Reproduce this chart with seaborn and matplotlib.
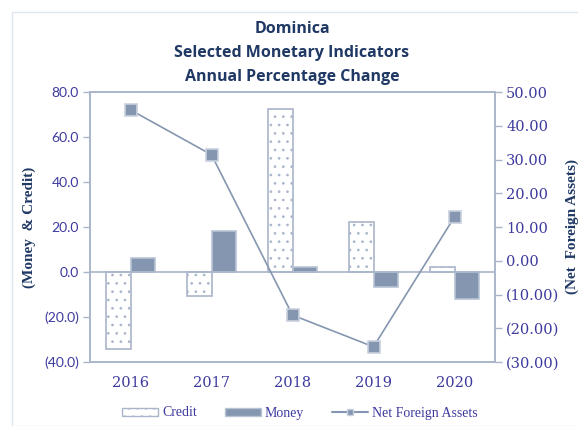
import matplotlib
matplotlib.use("Agg")
import matplotlib.pyplot as plt
import matplotlib.patches as mpatches
from matplotlib.lines import Line2D
import seaborn as sns
import pandas as pd

years = ["2016", "2017", "2018", "2019", "2020"]
credit = [-34.4, -10.7, 72.4, 22.1, 2.4]
money = [6.1, 18.1, 2.2, -6.7, -11.9]
nfa = [44.7, 31.4, -16.1, -25.5, 13.0]
left_ticks = [-40, -20, 0, 20, 40, 60, 80]
left_tick_labels = ["(40.0)", "(20.0)", "0.0", "20.0", "40.0", "60.0", "80.0"]
right_ticks = [-30, -20, -10, 0, 10, 20, 30, 40, 50]
right_tick_labels = ["(30.00)", "(20.00)", "(10.00)", "0.00", "10.00", "20.00", "30.00", "40.00", "50.00"]

sns.set_style("white")
plt.rcParams["hatch.color"] = "#6E9BE0"
plt.rcParams["hatch.linewidth"] = 0.7

SPINE = "#A9B5CA"
TICKC = "#3D3A9E"
NAVY = "#1F3864"
MFILL = "#8496B0"
MEDGE = "#B8C3D5"

fig = plt.figure(figsize=(5.78, 4.26), dpi=100)
fig.patches.append(mpatches.Rectangle((12/578, 0), 1, 1 - 12/426, transform=fig.transFigure,
                                      fill=False, edgecolor="#DCE6F2", linewidth=1.0))
ax = fig.add_axes([90/578, 1 - 362/426, 405/578, 270/426])

df = pd.DataFrame({
    "year": years * 2,
    "value": credit + money,
    "series": ["Credit"] * 5 + ["Money"] * 5,
})
sns.barplot(data=df, x="year", y="value", hue="series", ax=ax, width=0.6,
            palette={"Credit": "white", "Money": MFILL}, legend=False, saturation=1)
n = len(years)
for i, p in enumerate(ax.patches):
    if i < n:
        p.set_facecolor("white")
        p.set_edgecolor(SPINE)
        p.set_hatch("..")
        p.set_linewidth(1.2)
    else:
        p.set_facecolor(MFILL)
        p.set_edgecolor(MEDGE)
        p.set_linewidth(1.2)

ax.axhline(0, color=SPINE, linewidth=1.2, zorder=1)
ax.set_ylim(-40, 80)
ax.set_xlim(-0.5, 4.5)
ax.set_yticks(left_ticks)
ax.set_yticklabels(left_tick_labels, fontsize=10, color=TICKC, family="Lato")
ax.set_xticks(range(n))
ax.set_xticklabels(years, fontsize=10.5, color=TICKC, family="DejaVu Serif")
ax.tick_params(axis="x", length=0, pad=10)
ax.tick_params(axis="y", length=5, width=1, color=SPINE, direction="out", left=True, pad=3)
ax.set_xlabel("")
ax.set_ylabel("(Money  & Credit)", fontsize=11, color=NAVY, fontweight="bold",
              family="Liberation Serif", labelpad=6)
for s in ax.spines.values():
    s.set_color(SPINE)
    s.set_linewidth(1.2)

ax2 = ax.twinx()
sns.lineplot(x=list(range(n)), y=nfa, ax=ax2, color=MFILL, linewidth=1.2,
             marker="s", markersize=8, markerfacecolor=MFILL, markeredgecolor="#C8D0DE",
             markeredgewidth=1.2)
ax2.set_ylim(-30, 50)
ax2.set_yticks(right_ticks)
ax2.set_yticklabels(right_tick_labels, fontsize=10.5, color=TICKC, family="DejaVu Serif")
ax2.tick_params(axis="y", length=5, width=1, color=SPINE, direction="out", right=True, pad=3)
ax2.set_ylabel("(Net  Foreign Assets)", fontsize=11, color=NAVY, fontweight="bold",
               family="Liberation Serif", labelpad=4)
for s in ax2.spines.values():
    s.set_color(SPINE)
    s.set_linewidth(1.2)

for txt, y in [("Dominica", 29), ("Selected Monetary Indicators", 53), ("Annual Percentage Change", 77)]:
    fig.text(292/578, 1 - y/426, txt, ha="center", va="center", fontsize=11.5,
             fontweight="bold", color=NAVY, family="Open Sans")

handles = [
    mpatches.Patch(facecolor="white", edgecolor=SPINE, hatch="..", label="Credit"),
    mpatches.Patch(facecolor=MFILL, edgecolor=MEDGE, label="Money"),
    Line2D([0], [0], color=MFILL, marker="s", markersize=5, markerfacecolor=MFILL,
           markeredgecolor="#C8D0DE", label="Net Foreign Assets"),
]
leg = fig.legend(handles=handles, loc="center", bbox_to_anchor=(300/578, 1 - 413/426), ncol=3,
                 frameon=False, prop={"family": "Liberation Serif", "size": 10},
                 handlelength=2.6, handleheight=0.5, columnspacing=2.0, handletextpad=0.3)
for t in leg.get_texts():
    t.set_color(TICKC)

fig.savefig("out.png", dpi=100)
